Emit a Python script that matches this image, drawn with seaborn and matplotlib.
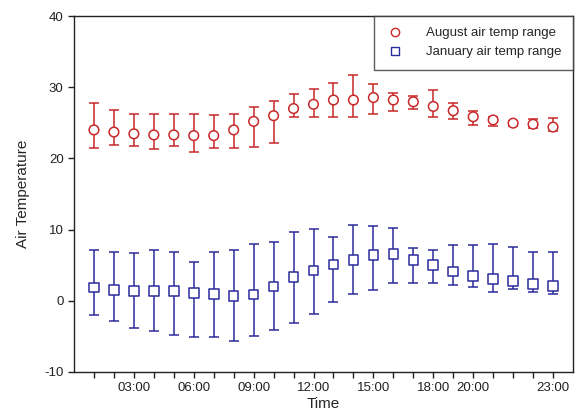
import matplotlib
matplotlib.use("Agg")
import matplotlib.pyplot as plt
import seaborn as sns
import pandas as pd
import numpy as np
from matplotlib.lines import Line2D

hours = list(range(1, 25))
aug_mid = [24.0, 23.7, 23.45, 23.3, 23.3, 23.2, 23.2, 24.0, 25.2, 26.0, 27.0, 27.6,
           28.2, 28.2, 28.55, 28.2, 27.95, 27.3, 26.7, 25.85, 25.4, 24.95, 24.8, 24.4]
aug_high = [27.85, 26.8, 26.3, 26.2, 26.2, 26.2, 26.1, 26.3, 27.15, 28.0, 29.0, 29.7,
            30.6, 31.65, 30.5, 29.25, 28.8, 29.55, 27.85, 26.6, 25.75, 25.3, 25.5, 25.65]
aug_low = [21.5, 21.9, 21.7, 21.3, 21.7, 20.9, 21.5, 21.5, 21.6, 22.2, 25.75, 25.75,
           25.75, 25.75, 26.2, 26.7, 26.9, 25.75, 25.5, 24.7, 24.6, 24.5, 24.25, 23.9]
jan_mid = [1.87, 1.5, 1.4, 1.36, 1.36, 1.08, 0.94, 0.66, 0.9, 2.0, 3.3, 4.25,
           5.1, 5.7, 6.4, 6.55, 5.76, 5.0, 4.1, 3.5, 3.1, 2.8, 2.4, 2.06]
jan_high = [7.1, 6.8, 6.7, 7.1, 6.8, 5.5, 6.8, 7.1, 8.0, 8.25, 9.7, 10.15,
            8.95, 10.6, 10.5, 10.25, 7.44, 7.16, 7.9, 7.9, 8.0, 7.6, 6.8, 6.8]
jan_low = [-1.97, -2.9, -3.8, -4.3, -4.8, -5.15, -5.15, -5.6, -4.96, -4.1, -3.05, -1.9,
           -0.1, 0.94, 1.5, 2.57, 2.57, 2.57, 2.2, 2.0, 1.3, 1.7, 1.3, 0.98]
tick_pos = [3, 6, 9, 12, 15, 18, 20, 24]
tick_labels = ["03:00", "06:00", "09:00", "12:00", "15:00", "18:00", "20:00", "23:00"]
series_names = ["August air temp range", "January air temp range"]

red = "#C82828"
blue = "#2B2B9B"

sns.set_theme(style="white")
plt.rcParams["font.family"] = ["Liberation Sans", "DejaVu Sans"]
plt.rcParams["axes.unicode_minus"] = False

fig = plt.figure(figsize=(5.86, 4.12), dpi=100)
ax = fig.add_axes([74 / 586, 1 - 372 / 412, (573 - 74) / 586, (372 - 16) / 412])

df = pd.DataFrame({
    "hour": hours * 2,
    "temp": aug_mid + jan_mid,
    "series": [series_names[0]] * 24 + [series_names[1]] * 24,
})

h = np.array(hours)
for mid, lo, hi, c in [(aug_mid, aug_low, aug_high, red), (jan_mid, jan_low, jan_high, blue)]:
    mid = np.array(mid)
    ax.errorbar(h, mid, yerr=[mid - np.array(lo), np.array(hi) - mid], fmt="none",
                ecolor=c, elinewidth=1.1, capsize=3.8, capthick=1.1, zorder=2)

sns.scatterplot(data=df, x="hour", y="temp", hue="series", style="series",
                markers={series_names[0]: "o", series_names[1]: "s"},
                palette={series_names[0]: red, series_names[1]: blue},
                s=48, linewidth=1.1, zorder=3, ax=ax, legend=False)
coll = ax.collections[-1]
coll.set_edgecolors([red] * 24 + [blue] * 24)
coll.set_facecolors("white")

handles = [Line2D([], [], marker="o", ls="none", mfc="white", mec=red, ms=6, mew=1.0),
           Line2D([], [], marker="s", ls="none", mfc="white", mec=blue, ms=6, mew=1.0)]
leg = ax.legend(handles, series_names,
                loc="upper right", borderaxespad=0, frameon=True, fancybox=False,
                edgecolor="#333333", fontsize=9.5, handletextpad=1.6, labelspacing=0.5,
                borderpad=0.85, handlelength=1.5)
leg.get_frame().set_linewidth(1.0)

ax.set_xlim(0, 25)
ax.set_ylim(-10, 40)
ax.set_yticks([-10, 0, 10, 20, 30, 40])
ax.set_xticks(hours, minor=True)
ax.set_xticks(tick_pos)
ax.set_xticklabels(tick_labels)
ax.tick_params(axis="both", which="both", direction="out", length=4, width=1,
               color="#222222", labelsize=9.5, labelcolor="#222222", bottom=True, left=True)
ax.tick_params(axis="x", which="major", pad=3)
for sp in ax.spines.values():
    sp.set_color("#222222")
    sp.set_linewidth(1.0)
ax.set_xlabel("Time", fontsize=11, labelpad=2)
ax.set_ylabel("Air Temperature", fontsize=11, labelpad=10)

fig.savefig("out.png", dpi=100)
